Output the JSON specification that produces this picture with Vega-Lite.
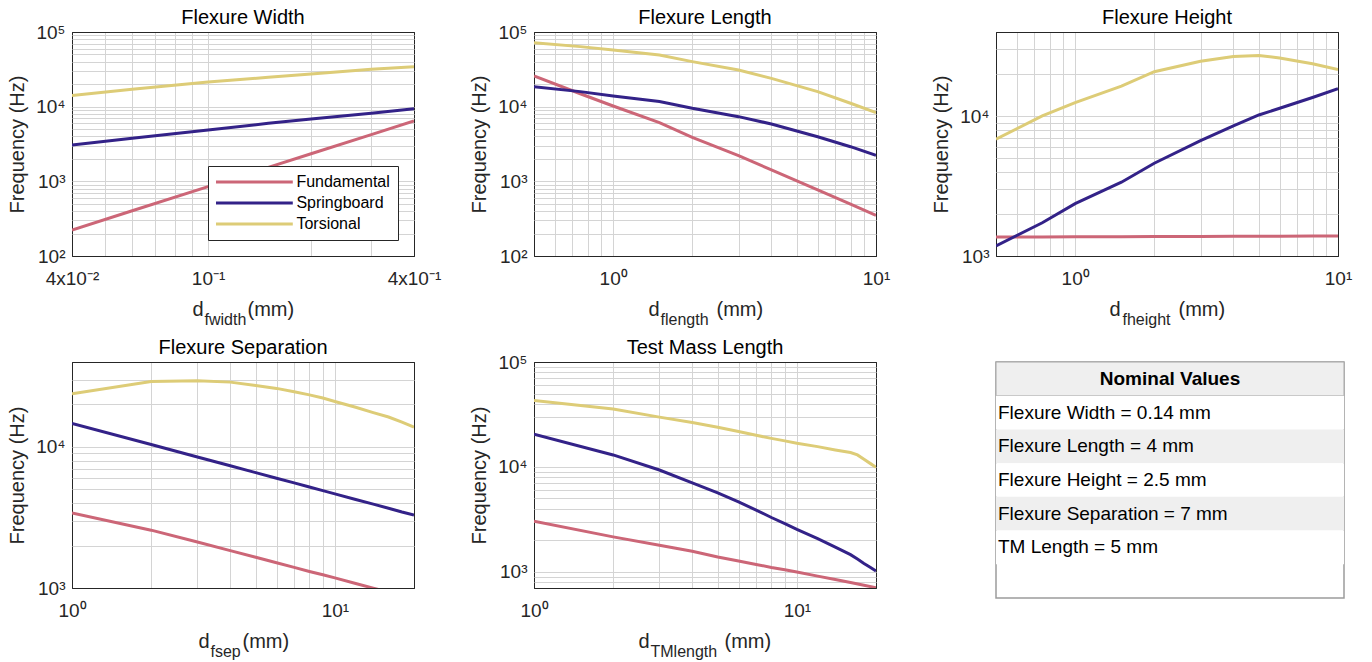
{
  "$schema": "https://vega.github.io/schema/vega-lite/v6.json",
  "padding": {"left": 7, "top": 7, "right": 5, "bottom": 0},
  "background": "white",
  "bounds": "flush",
  "columns": 3,
  "spacing": {"row": 106, "column": 120},
  "resolve": {"scale": {"color": "independent"}, "legend": {"color": "independent"}},
  "config": {
    "font": "Liberation Sans",
    "view": {"stroke": "#262626", "strokeWidth": 1},
    "title": {"fontSize": 20, "fontWeight": "normal", "color": "black", "offset": -5, "baseline": "alphabetic", "frame": "group"},
    "axis": {
      "labelFontSize": 19, "labelColor": "#262626", "labelFont": "Liberation Sans",
      "titleFontSize": 20, "titleFontWeight": "normal", "titleColor": "#262626", "titleFont": "Liberation Sans",
      "ticks": false, "domain": false, "labelFlush": false, "labelOverlap": false, "gridOpacity": 1
    },
    "axisX": {"labelPadding": 13, "titleAlign": "left", "titleBaseline": "alphabetic"},
    "axisY": {"labelPadding": 7, "titlePadding": 8}
  },
  "datasets": {
    "dsWidth": [
      {"x": 0.04, "f": 223, "mode": "Fundamental"},
      {"x": 0.06, "f": 403, "mode": "Fundamental"},
      {"x": 0.1, "f": 849, "mode": "Fundamental"},
      {"x": 0.15, "f": 1535, "mode": "Fundamental"},
      {"x": 0.2, "f": 2340, "mode": "Fundamental"},
      {"x": 0.3, "f": 4230, "mode": "Fundamental"},
      {"x": 0.4, "f": 6430, "mode": "Fundamental"},
      {"x": 0.04, "f": 3060, "mode": "Springboard"},
      {"x": 0.06, "f": 3770, "mode": "Springboard"},
      {"x": 0.1, "f": 4870, "mode": "Springboard"},
      {"x": 0.15, "f": 5980, "mode": "Springboard"},
      {"x": 0.2, "f": 6840, "mode": "Springboard"},
      {"x": 0.3, "f": 8150, "mode": "Springboard"},
      {"x": 0.4, "f": 9380, "mode": "Springboard"},
      {"x": 0.04, "f": 14150, "mode": "Torsional"},
      {"x": 0.06, "f": 17100, "mode": "Torsional"},
      {"x": 0.1, "f": 21400, "mode": "Torsional"},
      {"x": 0.15, "f": 24700, "mode": "Torsional"},
      {"x": 0.2, "f": 27400, "mode": "Torsional"},
      {"x": 0.3, "f": 31600, "mode": "Torsional"},
      {"x": 0.4, "f": 34300, "mode": "Torsional"}
    ],
    "dsLength": [
      {"x": 0.5, "f": 25800, "mode": "Fundamental"},
      {"x": 0.75, "f": 14900, "mode": "Fundamental"},
      {"x": 1, "f": 10200, "mode": "Fundamental"},
      {"x": 1.5, "f": 6110, "mode": "Fundamental"},
      {"x": 2, "f": 3880, "mode": "Fundamental"},
      {"x": 3, "f": 2210, "mode": "Fundamental"},
      {"x": 4, "f": 1420, "mode": "Fundamental"},
      {"x": 6, "f": 766, "mode": "Fundamental"},
      {"x": 8, "f": 497, "mode": "Fundamental"},
      {"x": 10, "f": 351, "mode": "Fundamental"},
      {"x": 0.5, "f": 18500, "mode": "Springboard"},
      {"x": 0.75, "f": 15900, "mode": "Springboard"},
      {"x": 1, "f": 13900, "mode": "Springboard"},
      {"x": 1.5, "f": 11700, "mode": "Springboard"},
      {"x": 2, "f": 9510, "mode": "Springboard"},
      {"x": 3, "f": 7350, "mode": "Springboard"},
      {"x": 4, "f": 5860, "mode": "Springboard"},
      {"x": 6, "f": 3960, "mode": "Springboard"},
      {"x": 8, "f": 2910, "mode": "Springboard"},
      {"x": 10, "f": 2230, "mode": "Springboard"},
      {"x": 0.5, "f": 71900, "mode": "Torsional"},
      {"x": 0.75, "f": 63700, "mode": "Torsional"},
      {"x": 1, "f": 57400, "mode": "Torsional"},
      {"x": 1.5, "f": 49200, "mode": "Torsional"},
      {"x": 2, "f": 40100, "mode": "Torsional"},
      {"x": 3, "f": 31000, "mode": "Torsional"},
      {"x": 4, "f": 23900, "mode": "Torsional"},
      {"x": 6, "f": 15900, "mode": "Torsional"},
      {"x": 8, "f": 11100, "mode": "Torsional"},
      {"x": 10, "f": 8320, "mode": "Torsional"}
    ],
    "dsHeight": [
      {"x": 0.5, "f": 1365, "mode": "Fundamental"},
      {"x": 0.75, "f": 1370, "mode": "Fundamental"},
      {"x": 1, "f": 1372, "mode": "Fundamental"},
      {"x": 1.5, "f": 1375, "mode": "Fundamental"},
      {"x": 2, "f": 1378, "mode": "Fundamental"},
      {"x": 3, "f": 1381, "mode": "Fundamental"},
      {"x": 4, "f": 1383, "mode": "Fundamental"},
      {"x": 5, "f": 1385, "mode": "Fundamental"},
      {"x": 6, "f": 1386, "mode": "Fundamental"},
      {"x": 8, "f": 1388, "mode": "Fundamental"},
      {"x": 10, "f": 1390, "mode": "Fundamental"},
      {"x": 0.5, "f": 1180, "mode": "Springboard"},
      {"x": 0.75, "f": 1730, "mode": "Springboard"},
      {"x": 1, "f": 2370, "mode": "Springboard"},
      {"x": 1.5, "f": 3370, "mode": "Springboard"},
      {"x": 2, "f": 4610, "mode": "Springboard"},
      {"x": 3, "f": 6680, "mode": "Springboard"},
      {"x": 4, "f": 8540, "mode": "Springboard"},
      {"x": 5, "f": 10200, "mode": "Springboard"},
      {"x": 6, "f": 11400, "mode": "Springboard"},
      {"x": 8, "f": 13600, "mode": "Springboard"},
      {"x": 10, "f": 15700, "mode": "Springboard"},
      {"x": 0.5, "f": 6850, "mode": "Torsional"},
      {"x": 0.75, "f": 10050, "mode": "Torsional"},
      {"x": 1, "f": 12500, "mode": "Torsional"},
      {"x": 1.5, "f": 16400, "mode": "Torsional"},
      {"x": 2, "f": 20800, "mode": "Torsional"},
      {"x": 3, "f": 24700, "mode": "Torsional"},
      {"x": 4, "f": 26700, "mode": "Torsional"},
      {"x": 5, "f": 27200, "mode": "Torsional"},
      {"x": 6, "f": 26100, "mode": "Torsional"},
      {"x": 8, "f": 23700, "mode": "Torsional"},
      {"x": 10, "f": 21600, "mode": "Torsional"}
    ],
    "dsSep": [
      {"x": 1, "f": 3410, "mode": "Fundamental"},
      {"x": 2, "f": 2570, "mode": "Fundamental"},
      {"x": 3, "f": 2120, "mode": "Fundamental"},
      {"x": 4, "f": 1840, "mode": "Fundamental"},
      {"x": 5, "f": 1650, "mode": "Fundamental"},
      {"x": 6, "f": 1510, "mode": "Fundamental"},
      {"x": 7, "f": 1400, "mode": "Fundamental"},
      {"x": 8, "f": 1310, "mode": "Fundamental"},
      {"x": 9, "f": 1240, "mode": "Fundamental"},
      {"x": 10, "f": 1180, "mode": "Fundamental"},
      {"x": 12, "f": 1075, "mode": "Fundamental"},
      {"x": 14, "f": 998, "mode": "Fundamental"},
      {"x": 16, "f": 935, "mode": "Fundamental"},
      {"x": 18, "f": 880, "mode": "Fundamental"},
      {"x": 20, "f": 836, "mode": "Fundamental"},
      {"x": 1, "f": 14700, "mode": "Springboard"},
      {"x": 2, "f": 10400, "mode": "Springboard"},
      {"x": 3, "f": 8490, "mode": "Springboard"},
      {"x": 4, "f": 7350, "mode": "Springboard"},
      {"x": 5, "f": 6570, "mode": "Springboard"},
      {"x": 6, "f": 6000, "mode": "Springboard"},
      {"x": 7, "f": 5560, "mode": "Springboard"},
      {"x": 8, "f": 5200, "mode": "Springboard"},
      {"x": 9, "f": 4900, "mode": "Springboard"},
      {"x": 10, "f": 4650, "mode": "Springboard"},
      {"x": 12, "f": 4240, "mode": "Springboard"},
      {"x": 14, "f": 3930, "mode": "Springboard"},
      {"x": 16, "f": 3680, "mode": "Springboard"},
      {"x": 18, "f": 3460, "mode": "Springboard"},
      {"x": 20, "f": 3290, "mode": "Springboard"},
      {"x": 1, "f": 23800, "mode": "Torsional"},
      {"x": 2, "f": 29100, "mode": "Torsional"},
      {"x": 3, "f": 29400, "mode": "Torsional"},
      {"x": 4, "f": 28800, "mode": "Torsional"},
      {"x": 5, "f": 27300, "mode": "Torsional"},
      {"x": 6, "f": 26000, "mode": "Torsional"},
      {"x": 7, "f": 24600, "mode": "Torsional"},
      {"x": 8, "f": 23400, "mode": "Torsional"},
      {"x": 9, "f": 22200, "mode": "Torsional"},
      {"x": 10, "f": 21000, "mode": "Torsional"},
      {"x": 12, "f": 19100, "mode": "Torsional"},
      {"x": 14, "f": 17500, "mode": "Torsional"},
      {"x": 16, "f": 16300, "mode": "Torsional"},
      {"x": 18, "f": 15000, "mode": "Torsional"},
      {"x": 20, "f": 13800, "mode": "Torsional"}
    ],
    "dsTm": [
      {"x": 1, "f": 3030, "mode": "Fundamental"},
      {"x": 2, "f": 2150, "mode": "Fundamental"},
      {"x": 3, "f": 1790, "mode": "Fundamental"},
      {"x": 4, "f": 1570, "mode": "Fundamental"},
      {"x": 5, "f": 1380, "mode": "Fundamental"},
      {"x": 6, "f": 1265, "mode": "Fundamental"},
      {"x": 7, "f": 1175, "mode": "Fundamental"},
      {"x": 8, "f": 1100, "mode": "Fundamental"},
      {"x": 9, "f": 1045, "mode": "Fundamental"},
      {"x": 10, "f": 993, "mode": "Fundamental"},
      {"x": 12, "f": 909, "mode": "Fundamental"},
      {"x": 14, "f": 845, "mode": "Fundamental"},
      {"x": 16, "f": 791, "mode": "Fundamental"},
      {"x": 18, "f": 745, "mode": "Fundamental"},
      {"x": 20, "f": 703, "mode": "Fundamental"},
      {"x": 1, "f": 20500, "mode": "Springboard"},
      {"x": 2, "f": 13000, "mode": "Springboard"},
      {"x": 3, "f": 9330, "mode": "Springboard"},
      {"x": 4, "f": 7050, "mode": "Springboard"},
      {"x": 5, "f": 5660, "mode": "Springboard"},
      {"x": 6, "f": 4640, "mode": "Springboard"},
      {"x": 7, "f": 3870, "mode": "Springboard"},
      {"x": 8, "f": 3290, "mode": "Springboard"},
      {"x": 9, "f": 2880, "mode": "Springboard"},
      {"x": 10, "f": 2540, "mode": "Springboard"},
      {"x": 12, "f": 2070, "mode": "Springboard"},
      {"x": 14, "f": 1720, "mode": "Springboard"},
      {"x": 16, "f": 1455, "mode": "Springboard"},
      {"x": 17, "f": 1320, "mode": "Springboard"},
      {"x": 18, "f": 1200, "mode": "Springboard"},
      {"x": 19, "f": 1105, "mode": "Springboard"},
      {"x": 20, "f": 1015, "mode": "Springboard"},
      {"x": 1, "f": 42900, "mode": "Torsional"},
      {"x": 2, "f": 35700, "mode": "Torsional"},
      {"x": 3, "f": 29800, "mode": "Torsional"},
      {"x": 4, "f": 26500, "mode": "Torsional"},
      {"x": 5, "f": 23900, "mode": "Torsional"},
      {"x": 6, "f": 21700, "mode": "Torsional"},
      {"x": 7, "f": 20000, "mode": "Torsional"},
      {"x": 8, "f": 18700, "mode": "Torsional"},
      {"x": 9, "f": 17700, "mode": "Torsional"},
      {"x": 10, "f": 16800, "mode": "Torsional"},
      {"x": 12, "f": 15600, "mode": "Torsional"},
      {"x": 14, "f": 14500, "mode": "Torsional"},
      {"x": 16, "f": 13700, "mode": "Torsional"},
      {"x": 17, "f": 13000, "mode": "Torsional"},
      {"x": 18, "f": 11800, "mode": "Torsional"},
      {"x": 19, "f": 10800, "mode": "Torsional"},
      {"x": 20, "f": 9890, "mode": "Torsional"}
    ],
    "dsTable": [
      {"idx": 0, "label": "Nominal Values"},
      {"idx": 1, "label": "Flexure Width = 0.14 mm"},
      {"idx": 2, "label": "Flexure Length = 4 mm"},
      {"idx": 3, "label": "Flexure Height = 2.5 mm"},
      {"idx": 4, "label": "Flexure Separation = 7 mm"},
      {"idx": 5, "label": "TM Length = 5 mm"}
    ]
  },
  "concat": [
    {
      "title": "Flexure Width",
      "width": 342, "height": 224,
      "data": {"name": "dsWidth"},
      "resolve": {"scale": {"x": "independent"}, "axis": {"x": "independent"}},
      "encoding": {
        "y": {"field": "f", "type": "quantitative",
          "scale": {"type": "log", "domain": [100, 100000], "nice": false},
          "axis": {"values": [100,200,300,400,500,600,700,800,900,1000,2000,3000,4000,5000,6000,7000,8000,9000,10000,20000,30000,40000,50000,60000,70000,80000,90000,100000],
            "labelExpr": "datum.value==100?'10²':datum.value==1000?'10³':datum.value==10000?'10⁴':datum.value==100000?'10⁵':''",
            "gridColor": {"condition": {"test": "datum.value==100||datum.value==100000", "value": "#262626"}, "value": "#d4d4d4"},
            "title": "Frequency (Hz)"}}
      },
      "layer": [
        {
          "mark": {"type": "line", "strokeWidth": 3, "clip": true},
          "encoding": {
            "x": {"field": "x", "type": "quantitative",
              "scale": {"type": "log", "domain": [0.04, 0.4], "nice": false},
              "axis": {"orient": "bottom", "values": [0.04,0.05,0.06,0.07,0.08,0.09,0.1,0.2,0.3,0.4],
                "labelExpr": "datum.value==0.04?'4x10⁻²':datum.value==0.1?'10⁻¹':datum.value==0.4?'4x10⁻¹':''",
                "gridColor": {"condition": {"test": "datum.value==0.04||datum.value==0.4", "value": "#262626"}, "value": "#d4d4d4"},
                "title": "d", "titleX": 120, "titleY": 59}},
            "color": {"field": "mode", "type": "nominal",
              "scale": {"domain": ["Fundamental", "Springboard", "Torsional"], "range": ["#CC6677", "#332288", "#DDCC77"]},
              "legend": {"orient": "bottom-right", "offset": 16, "title": null,
                "symbolType": "M-6.4,0H6.4", "symbolSize": 144, "symbolStrokeWidth": 3, "symbolOffset": 30.4,
                "labelOffset": 34, "labelFontSize": 16, "labelColor": "black", "labelFont": "Liberation Sans",
                "strokeColor": "#262626", "fillColor": "white", "padding": 8, "rowPadding": 5}}
          }
        },
        {
          "mark": {"type": "point", "opacity": 0},
          "encoding": {
            "x": {"field": "x", "type": "quantitative",
              "scale": {"type": "log", "domain": [0.04, 0.4], "nice": false},
              "axis": {"orient": "bottom", "grid": false, "labels": false, "title": "fwidth", "titleFontSize": 16, "titleX": 132, "titleY": 68}}
          }
        },
        {
          "mark": {"type": "point", "opacity": 0},
          "encoding": {
            "x": {"field": "x", "type": "quantitative",
              "scale": {"type": "log", "domain": [0.04, 0.4], "nice": false},
              "axis": {"orient": "bottom", "grid": false, "labels": false, "title": "(mm)", "titleX": 175, "titleY": 59}}
          }
        }
      ]
    },
    {
      "title": "Flexure Length",
      "width": 342, "height": 224,
      "data": {"name": "dsLength"},
      "resolve": {"scale": {"x": "independent"}, "axis": {"x": "independent"}},
      "encoding": {
        "y": {"field": "f", "type": "quantitative",
          "scale": {"type": "log", "domain": [100, 100000], "nice": false},
          "axis": {"values": [100,200,300,400,500,600,700,800,900,1000,2000,3000,4000,5000,6000,7000,8000,9000,10000,20000,30000,40000,50000,60000,70000,80000,90000,100000],
            "labelExpr": "datum.value==100?'10²':datum.value==1000?'10³':datum.value==10000?'10⁴':datum.value==100000?'10⁵':''",
            "gridColor": {"condition": {"test": "datum.value==100||datum.value==100000", "value": "#262626"}, "value": "#d4d4d4"},
            "title": "Frequency (Hz)"}}
      },
      "layer": [
        {
          "mark": {"type": "line", "strokeWidth": 3, "clip": true},
          "encoding": {
            "x": {"field": "x", "type": "quantitative",
              "scale": {"type": "log", "domain": [0.5, 10], "nice": false},
              "axis": {"orient": "bottom", "values": [0.5,0.6,0.7,0.8,0.9,1,2,3,4,5,6,7,8,9,10],
                "labelExpr": "datum.value==1?'10⁰':datum.value==10?'10¹':''",
                "gridColor": {"condition": {"test": "datum.value==0.5||datum.value==10", "value": "#262626"}, "value": "#d4d4d4"},
                "title": "d", "titleX": 114, "titleY": 59}},
            "color": {"field": "mode", "type": "nominal",
              "scale": {"domain": ["Fundamental", "Springboard", "Torsional"], "range": ["#CC6677", "#332288", "#DDCC77"]},
              "legend": null}
          }
        },
        {
          "mark": {"type": "point", "opacity": 0},
          "encoding": {
            "x": {"field": "x", "type": "quantitative",
              "scale": {"type": "log", "domain": [0.5, 10], "nice": false},
              "axis": {"orient": "bottom", "grid": false, "labels": false, "title": "flength", "titleFontSize": 16, "titleX": 126, "titleY": 68}}
          }
        },
        {
          "mark": {"type": "point", "opacity": 0},
          "encoding": {
            "x": {"field": "x", "type": "quantitative",
              "scale": {"type": "log", "domain": [0.5, 10], "nice": false},
              "axis": {"orient": "bottom", "grid": false, "labels": false, "title": "(mm)", "titleX": 182, "titleY": 59}}
          }
        }
      ]
    },
    {
      "title": "Flexure Height",
      "width": 342, "height": 224,
      "data": {"name": "dsHeight"},
      "resolve": {"scale": {"x": "independent"}, "axis": {"x": "independent"}},
      "encoding": {
        "y": {"field": "f", "type": "quantitative",
          "scale": {"type": "log", "domain": [1000, 40000], "nice": false},
          "axis": {"values": [1000,2000,3000,4000,5000,6000,7000,8000,9000,10000,20000,30000,40000],
            "labelExpr": "datum.value==1000?'10³':datum.value==10000?'10⁴':''",
            "gridColor": {"condition": {"test": "datum.value==1000||datum.value==40000", "value": "#262626"}, "value": "#d4d4d4"},
            "title": "Frequency (Hz)"}}
      },
      "layer": [
        {
          "mark": {"type": "line", "strokeWidth": 3, "clip": true},
          "encoding": {
            "x": {"field": "x", "type": "quantitative",
              "scale": {"type": "log", "domain": [0.5, 10], "nice": false},
              "axis": {"orient": "bottom", "values": [0.5,0.6,0.7,0.8,0.9,1,2,3,4,5,6,7,8,9,10],
                "labelExpr": "datum.value==1?'10⁰':datum.value==10?'10¹':''",
                "gridColor": {"condition": {"test": "datum.value==0.5||datum.value==10", "value": "#262626"}, "value": "#d4d4d4"},
                "title": "d", "titleX": 113, "titleY": 59}},
            "color": {"field": "mode", "type": "nominal",
              "scale": {"domain": ["Fundamental", "Springboard", "Torsional"], "range": ["#CC6677", "#332288", "#DDCC77"]},
              "legend": null}
          }
        },
        {
          "mark": {"type": "point", "opacity": 0},
          "encoding": {
            "x": {"field": "x", "type": "quantitative",
              "scale": {"type": "log", "domain": [0.5, 10], "nice": false},
              "axis": {"orient": "bottom", "grid": false, "labels": false, "title": "fheight", "titleFontSize": 16, "titleX": 126, "titleY": 68}}
          }
        },
        {
          "mark": {"type": "point", "opacity": 0},
          "encoding": {
            "x": {"field": "x", "type": "quantitative",
              "scale": {"type": "log", "domain": [0.5, 10], "nice": false},
              "axis": {"orient": "bottom", "grid": false, "labels": false, "title": "(mm)", "titleX": 182, "titleY": 59}}
          }
        }
      ]
    },
    {
      "title": "Flexure Separation",
      "width": 342, "height": 226,
      "data": {"name": "dsSep"},
      "resolve": {"scale": {"x": "independent"}, "axis": {"x": "independent"}},
      "encoding": {
        "y": {"field": "f", "type": "quantitative",
          "scale": {"type": "log", "domain": [1000, 40000], "nice": false},
          "axis": {"values": [1000,2000,3000,4000,5000,6000,7000,8000,9000,10000,20000,30000,40000],
            "labelExpr": "datum.value==1000?'10³':datum.value==10000?'10⁴':''",
            "gridColor": {"condition": {"test": "datum.value==1000||datum.value==40000", "value": "#262626"}, "value": "#d4d4d4"},
            "title": "Frequency (Hz)"}}
      },
      "layer": [
        {
          "mark": {"type": "line", "strokeWidth": 3, "clip": true},
          "encoding": {
            "x": {"field": "x", "type": "quantitative",
              "scale": {"type": "log", "domain": [1, 20], "nice": false},
              "axis": {"orient": "bottom", "values": [1,2,3,4,5,6,7,8,9,10,20],
                "labelExpr": "datum.value==1?'10⁰':datum.value==10?'10¹':''",
                "gridColor": {"condition": {"test": "datum.value==1||datum.value==20", "value": "#262626"}, "value": "#d4d4d4"},
                "title": "d", "titleX": 126, "titleY": 59}},
            "color": {"field": "mode", "type": "nominal",
              "scale": {"domain": ["Fundamental", "Springboard", "Torsional"], "range": ["#CC6677", "#332288", "#DDCC77"]},
              "legend": null}
          }
        },
        {
          "mark": {"type": "point", "opacity": 0},
          "encoding": {
            "x": {"field": "x", "type": "quantitative",
              "scale": {"type": "log", "domain": [1, 20], "nice": false},
              "axis": {"orient": "bottom", "grid": false, "labels": false, "title": "fsep", "titleFontSize": 16, "titleX": 138, "titleY": 68}}
          }
        },
        {
          "mark": {"type": "point", "opacity": 0},
          "encoding": {
            "x": {"field": "x", "type": "quantitative",
              "scale": {"type": "log", "domain": [1, 20], "nice": false},
              "axis": {"orient": "bottom", "grid": false, "labels": false, "title": "(mm)", "titleX": 170, "titleY": 59}}
          }
        }
      ]
    },
    {
      "title": "Test Mass Length",
      "width": 342, "height": 226,
      "data": {"name": "dsTm"},
      "resolve": {"scale": {"x": "independent"}, "axis": {"x": "independent"}},
      "encoding": {
        "y": {"field": "f", "type": "quantitative",
          "scale": {"type": "log", "domain": [700, 100000], "nice": false},
          "axis": {"values": [700,800,900,1000,2000,3000,4000,5000,6000,7000,8000,9000,10000,20000,30000,40000,50000,60000,70000,80000,90000,100000],
            "labelExpr": "datum.value==1000?'10³':datum.value==10000?'10⁴':datum.value==100000?'10⁵':''",
            "gridColor": {"condition": {"test": "datum.value==700||datum.value==100000", "value": "#262626"}, "value": "#d4d4d4"},
            "title": "Frequency (Hz)"}}
      },
      "layer": [
        {
          "mark": {"type": "line", "strokeWidth": 3, "clip": true},
          "encoding": {
            "x": {"field": "x", "type": "quantitative",
              "scale": {"type": "log", "domain": [1, 20], "nice": false},
              "axis": {"orient": "bottom", "values": [1,2,3,4,5,6,7,8,9,10,20],
                "labelExpr": "datum.value==1?'10⁰':datum.value==10?'10¹':''",
                "gridColor": {"condition": {"test": "datum.value==1||datum.value==20", "value": "#262626"}, "value": "#d4d4d4"},
                "title": "d", "titleX": 104, "titleY": 59}},
            "color": {"field": "mode", "type": "nominal",
              "scale": {"domain": ["Fundamental", "Springboard", "Torsional"], "range": ["#CC6677", "#332288", "#DDCC77"]},
              "legend": null}
          }
        },
        {
          "mark": {"type": "point", "opacity": 0},
          "encoding": {
            "x": {"field": "x", "type": "quantitative",
              "scale": {"type": "log", "domain": [1, 20], "nice": false},
              "axis": {"orient": "bottom", "grid": false, "labels": false, "title": "TMlength", "titleFontSize": 16, "titleX": 116, "titleY": 68}}
          }
        },
        {
          "mark": {"type": "point", "opacity": 0},
          "encoding": {
            "x": {"field": "x", "type": "quantitative",
              "scale": {"type": "log", "domain": [1, 20], "nice": false},
              "axis": {"orient": "bottom", "grid": false, "labels": false, "title": "(mm)", "titleX": 190, "titleY": 59}}
          }
        }
      ]
    },
    {
      "width": 348, "height": 236,
      "data": {"name": "dsTable"},
      "view": {"stroke": "#9c9c9c", "strokeWidth": 1.5},
      "encoding": {
        "y": {"field": "idx", "type": "ordinal", "axis": null,
          "scale": {"domain": [0, 1, 2, 3, 4, 5, 6], "paddingInner": 0, "paddingOuter": 0}}
      },
      "layer": [
        {
          "mark": {"type": "rect"},
          "encoding": {
            "color": {"condition": {"test": "datum.idx==0||datum.idx==2||datum.idx==4", "value": "#efefef"}, "value": "white"},
            "stroke": {"condition": {"test": "datum.idx==0", "value": "#a8a8a8"}, "value": null}
          }
        },
        {
          "transform": [{"filter": "datum.idx==0"}],
          "mark": {"type": "text", "fontWeight": "bold", "fontSize": 19, "color": "black", "font": "Liberation Sans"},
          "encoding": {"text": {"field": "label"}}
        },
        {
          "transform": [{"filter": "datum.idx>0"}],
          "mark": {"type": "text", "align": "left", "dx": 2, "fontSize": 19, "color": "black", "font": "Liberation Sans"},
          "encoding": {
            "x": {"datum": 0, "type": "quantitative", "scale": {"domain": [0, 1]}, "axis": null},
            "text": {"field": "label"}
          }
        }
      ]
    }
  ]
}
